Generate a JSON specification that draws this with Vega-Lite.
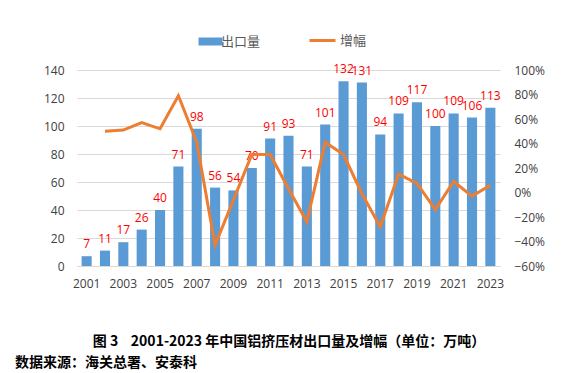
{
  "$schema": "https://vega.github.io/schema/vega-lite/v6.json",
  "autosize": {"type": "none"},
  "width": 423,
  "height": 196,
  "padding": {"left": 77, "top": 70, "right": 79, "bottom": 107},
  "background": "white",
  "config": {
    "font": "Noto Sans CJK SC",
    "view": {"stroke": null}
  },
  "data": {"values": [
    {"year": 2001, "v": 7, "g": null},
    {"year": 2002, "v": 11, "g": 0.50},
    {"year": 2003, "v": 17, "g": 0.51},
    {"year": 2004, "v": 26, "g": 0.57},
    {"year": 2005, "v": 40, "g": 0.52},
    {"year": 2006, "v": 71, "g": 0.79},
    {"year": 2007, "v": 98, "g": 0.41},
    {"year": 2008, "v": 56, "g": -0.43},
    {"year": 2009, "v": 54, "g": -0.06},
    {"year": 2010, "v": 70, "g": 0.31},
    {"year": 2011, "v": 91, "g": 0.31},
    {"year": 2012, "v": 93, "g": 0.03},
    {"year": 2013, "v": 71, "g": -0.24},
    {"year": 2014, "v": 101, "g": 0.41},
    {"year": 2015, "v": 132, "g": 0.31},
    {"year": 2016, "v": 131, "g": -0.01},
    {"year": 2017, "v": 94, "g": -0.28},
    {"year": 2018, "v": 109, "g": 0.15},
    {"year": 2019, "v": 117, "g": 0.075},
    {"year": 2020, "v": 100, "g": -0.14},
    {"year": 2021, "v": 109, "g": 0.09},
    {"year": 2022, "v": 106, "g": -0.03},
    {"year": 2023, "v": 113, "g": 0.06}
  ]},
  "title": {
    "text": "数据来源：海关总署、安泰科",
    "orient": "bottom",
    "anchor": "start",
    "frame": "group",
    "dx": -62,
    "offset": 8,
    "fontSize": 14,
    "fontWeight": "bold",
    "color": "#000000",
    "font": "Noto Sans CJK SC"
  },
  "encoding": {
    "x": {
      "field": "year",
      "type": "ordinal",
      "scale": {"paddingInner": 0.45, "paddingOuter": 0.25},
      "axis": {
        "values": [2001, 2003, 2005, 2007, 2009, 2011, 2013, 2015, 2017, 2019, 2021, 2023],
        "labelAngle": 0,
        "labelFont": "Open Sans",
        "labelFontSize": 12,
        "labelColor": "#404040",
        "labelPadding": 12,
        "ticks": false,
        "domainColor": "#d9d9d9",
        "title": "图 3\u00a0\u00a0\u00a0 2001-2023 年中国铝挤压材出口量及增幅（单位：万吨）",
        "titleFontSize": 14,
        "titleFontWeight": "bold",
        "titleColor": "#000000",
        "titlePadding": 45
      }
    }
  },
  "layer": [
    {
      "encoding": {
        "y": {
          "field": "v",
          "type": "quantitative",
          "scale": {"domain": [0, 140], "nice": false},
          "axis": {
            "orient": "left",
            "values": [0, 20, 40, 60, 80, 100, 120, 140],
            "labelOverlap": false,
            "grid": true,
            "gridColor": "#d9d9d9",
            "domain": false,
            "ticks": false,
            "labelFont": "Open Sans",
            "labelFontSize": 12,
            "labelColor": "#404040",
            "labelPadding": 13,
            "title": null
          }
        }
      },
      "layer": [
        {
          "mark": {"type": "bar", "color": "#5B9BD5"},
          "encoding": {
            "fill": {
              "datum": "出口量",
              "scale": {"range": ["#5B9BD5"]},
              "legend": {
                "orient": "none",
                "legendX": 127,
                "legendY": -35,
                "title": null,
                "symbolType": "M-3,-1H3V1H-3Z",
                "symbolSize": 64,
                "labelFontSize": 13,
                "labelColor": "#595959",
                "labelOffset": 4
              }
            }
          }
        },
        {
          "mark": {"type": "text", "color": "#FF0000", "font": "Open Sans", "fontSize": 12, "baseline": "bottom", "dy": -5},
          "encoding": {
            "text": {"field": "v", "type": "quantitative"}
          }
        }
      ]
    },
    {
      "mark": {"type": "line", "color": "#ED7D31", "strokeWidth": 3},
      "encoding": {
        "y": {
          "field": "g",
          "type": "quantitative",
          "scale": {"domain": [-0.6, 1.0], "nice": false},
          "axis": {
            "orient": "right",
            "values": [-0.6, -0.4, -0.2, 0, 0.2, 0.4, 0.6, 0.8, 1.0],
            "labelOverlap": false,
            "format": ".0%",
            "grid": false,
            "domain": false,
            "ticks": false,
            "labelFont": "Open Sans",
            "labelFontSize": 12,
            "labelColor": "#404040",
            "labelPadding": 14,
            "title": null
          }
        },
        "stroke": {
          "datum": "增幅",
          "scale": {"range": ["#ED7D31"]},
          "legend": {
            "orient": "none",
            "legendX": 231,
            "legendY": -44,
            "title": null,
            "symbolType": "stroke",
            "symbolSize": 676,
            "symbolStrokeWidth": 3,
            "labelFontSize": 13,
            "labelColor": "#595959",
            "labelOffset": 3
          }
        }
      }
    }
  ],
  "resolve": {"scale": {"y": "independent", "fill": "independent", "stroke": "independent"}}
}
